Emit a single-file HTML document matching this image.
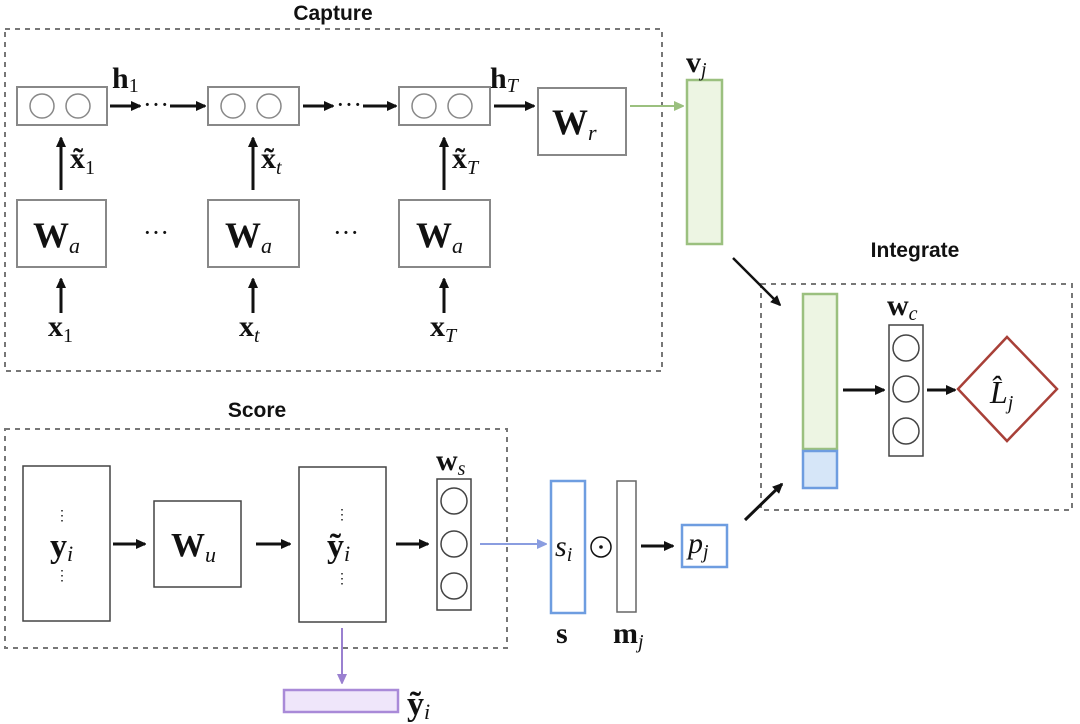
<!DOCTYPE html>
<html><head><meta charset="utf-8"><style>
html,body{margin:0;padding:0;background:#fff;}
svg{display:block;}
.t{font-family:"Liberation Sans",sans-serif;font-weight:bold;font-size:21px;fill:#111;}
.m{font-family:"Liberation Serif",serif;fill:#111;}
.b{font-weight:bold;}
.i{font-style:italic;}
</style></head><body>
<svg width="1080" height="724" viewBox="0 0 1080 724" xmlns="http://www.w3.org/2000/svg">
<defs>
<marker id="ak" markerWidth="10" markerHeight="10" refX="9" refY="5" orient="auto" markerUnits="userSpaceOnUse"><path d="M0,0 L11,5 L0,10 Z" fill="#111"/></marker>
<marker id="ag" markerWidth="10" markerHeight="10" refX="9" refY="5" orient="auto" markerUnits="userSpaceOnUse"><path d="M0,0 L11,5 L0,10 Z" fill="#9bc07f"/></marker>
<marker id="ab" markerWidth="10" markerHeight="10" refX="9" refY="5" orient="auto" markerUnits="userSpaceOnUse"><path d="M0,0 L11,5 L0,10 Z" fill="#8a9de0"/></marker>
<marker id="ap" markerWidth="10" markerHeight="10" refX="9" refY="5" orient="auto" markerUnits="userSpaceOnUse"><path d="M0,0 L11,5 L0,10 Z" fill="#9a80d0"/></marker>
</defs>
<g fill="none" stroke="#777" stroke-width="2" stroke-dasharray="5,5">
<rect x="5" y="29" width="657" height="342"/>
<rect x="5" y="429" width="502" height="219"/>
<rect x="761" y="284" width="311" height="226"/>
</g>
<text class="t" x="333" y="20" text-anchor="middle">Capture</text>
<text class="t" x="257" y="417" text-anchor="middle">Score</text>
<text class="t" x="915" y="257" text-anchor="middle">Integrate</text>

<g fill="#fff" stroke="#888" stroke-width="2">
<rect x="17" y="87" width="90" height="38"/><rect x="208" y="87" width="91" height="38"/><rect x="399" y="87" width="91" height="38"/>
<rect x="17" y="200" width="89" height="67"/><rect x="208" y="200" width="91" height="67"/><rect x="399" y="200" width="91" height="67"/>
<rect x="538" y="88" width="88" height="67"/>
</g>
<g fill="none" stroke="#888" stroke-width="1.5">
<circle cx="42" cy="106" r="12"/><circle cx="78" cy="106" r="12"/>
<circle cx="233" cy="106" r="12"/><circle cx="269" cy="106" r="12"/>
<circle cx="424" cy="106" r="12"/><circle cx="460" cy="106" r="12"/>
</g>
<g stroke="#111" stroke-width="3" marker-end="url(#ak)">
<line x1="110" y1="106" x2="140" y2="106"/><line x1="170" y1="106" x2="205" y2="106"/>
<line x1="303" y1="106" x2="333" y2="106"/><line x1="363" y1="106" x2="396" y2="106"/>
<line x1="494" y1="106" x2="534" y2="106"/>
<line x1="61" y1="190" x2="61" y2="138"/><line x1="253" y1="190" x2="253" y2="138"/><line x1="444" y1="190" x2="444" y2="138"/>
<line x1="61" y1="313" x2="61" y2="279"/><line x1="253" y1="313" x2="253" y2="279"/><line x1="444" y1="313" x2="444" y2="279"/>
</g>
<g class="m" font-size="26">
<text x="143" y="113">···</text><text x="336" y="113">···</text>
<text x="143" y="241">···</text><text x="333" y="241">···</text>
</g>
<g class="m" font-size="30">
<text x="112" y="88" class="b">h<tspan font-size="20" font-weight="normal" dy="4">1</tspan></text>
<text x="490" y="88" class="b">h<tspan font-size="20" font-weight="normal" font-style="italic" dy="4">T</tspan></text>
<text x="70" y="168" class="b">x̃<tspan font-size="20" font-weight="normal" dy="6">1</tspan></text>
<text x="261" y="168" class="b">x̃<tspan font-size="20" font-weight="normal" font-style="italic" dy="6">t</tspan></text>
<text x="452" y="168" class="b">x̃<tspan font-size="20" font-weight="normal" font-style="italic" dy="6">T</tspan></text>
<text x="48" y="336" class="b">x<tspan font-size="20" font-weight="normal" dy="6">1</tspan></text>
<text x="239" y="336" class="b">x<tspan font-size="20" font-weight="normal" font-style="italic" dy="6">t</tspan></text>
<text x="430" y="336" class="b">x<tspan font-size="20" font-weight="normal" font-style="italic" dy="6">T</tspan></text>
</g>
<g class="m" font-size="36">
<text x="33" y="247" class="b">W<tspan font-size="22" font-weight="normal" font-style="italic" dy="6">a</tspan></text>
<text x="225" y="247" class="b">W<tspan font-size="22" font-weight="normal" font-style="italic" dy="6">a</tspan></text>
<text x="416" y="247" class="b">W<tspan font-size="22" font-weight="normal" font-style="italic" dy="6">a</tspan></text>
<text x="552" y="134" class="b">W<tspan font-size="22" font-weight="normal" font-style="italic" dy="6">r</tspan></text>
</g>
<line x1="630" y1="106" x2="683" y2="106" stroke="#9bc07f" stroke-width="2" marker-end="url(#ag)"/>
<rect x="687" y="80" width="35" height="164" fill="#edf5e3" stroke="#9bc07f" stroke-width="2.5"/>
<text class="m b" x="686" y="72" font-size="30">v<tspan font-size="20" font-weight="normal" font-style="italic" dy="4">j</tspan></text>
<line x1="733" y1="258" x2="780" y2="305" stroke="#111" stroke-width="2.5" marker-end="url(#ak)"/>

<rect x="803" y="294" width="34" height="155" fill="#edf5e3" stroke="#9bc07f" stroke-width="2.5"/>
<rect x="803" y="451" width="34" height="37" fill="#d6e6f8" stroke="#6e9de0" stroke-width="2.5"/>
<line x1="843" y1="390" x2="884" y2="390" stroke="#111" stroke-width="3" marker-end="url(#ak)"/>
<rect x="889" y="325" width="34" height="131" fill="#fff" stroke="#444" stroke-width="1.5"/>
<g fill="none" stroke="#444" stroke-width="1.5"><circle cx="906" cy="348" r="13"/><circle cx="906" cy="389" r="13"/><circle cx="906" cy="431" r="13"/></g>
<line x1="927" y1="390" x2="955" y2="390" stroke="#111" stroke-width="3" marker-end="url(#ak)"/>
<polygon points="1007,337 1057,389 1007,441 958,389" fill="#fff" stroke="#a84038" stroke-width="2.5"/>
<text class="m i" x="990" y="403" font-size="32">L̂<tspan font-size="20" dy="6">j</tspan></text>
<text class="m b" x="887" y="315" font-size="30">w<tspan font-size="20" font-weight="normal" font-style="italic" dy="5">c</tspan></text>

<g fill="#fff" stroke="#444" stroke-width="1.5">
<rect x="23" y="466" width="87" height="155"/><rect x="154" y="501" width="87" height="86"/>
<rect x="299" y="467" width="87" height="155"/><rect x="437" y="479" width="34" height="131"/>
<rect x="617" y="481" width="19" height="131" stroke="#666"/>
</g>
<g fill="none" stroke="#444" stroke-width="1.5"><circle cx="454" cy="501" r="13"/><circle cx="454" cy="544" r="13"/><circle cx="454" cy="586" r="13"/></g>
<g stroke="#111" stroke-width="3" marker-end="url(#ak)">
<line x1="113" y1="544" x2="145" y2="544"/><line x1="256" y1="544" x2="290" y2="544"/>
<line x1="396" y1="544" x2="428" y2="544"/><line x1="641" y1="546" x2="673" y2="546"/>
<line x1="745" y1="520" x2="782" y2="484"/>
</g>
<g class="m" font-size="14" fill="#555">
<text x="62" y="520" text-anchor="middle">⋮</text><text x="62" y="580" text-anchor="middle">⋮</text>
<text x="342" y="519" text-anchor="middle">⋮</text><text x="342" y="583" text-anchor="middle">⋮</text>
<text x="567" y="525" text-anchor="middle">⋮</text><text x="567" y="585" text-anchor="middle">⋮</text>
</g>
<g class="m" font-size="34">
<text x="50" y="557" class="b">y<tspan font-size="22" font-weight="normal" font-style="italic" dy="4">i</tspan></text>
<text x="327" y="557" class="b">ỹ<tspan font-size="22" font-weight="normal" font-style="italic" dy="4">i</tspan></text>
<text x="171" y="556" class="b">W<tspan font-size="22" font-weight="normal" font-style="italic" dy="6">u</tspan></text>
<text x="436" y="470" class="b" font-size="30">w<tspan font-size="20" font-weight="normal" font-style="italic" dy="5">s</tspan></text>
<text x="556" y="643" class="b" font-size="30">s</text>
<text x="613" y="643" class="b" font-size="30">m<tspan font-size="20" font-weight="normal" font-style="italic" dy="5">j</tspan></text>
<text x="303" y="715" class="b" dx="104">ỹ<tspan font-size="22" font-weight="normal" font-style="italic" dy="4">i</tspan></text>
</g>
<line x1="480" y1="544" x2="546" y2="544" stroke="#8a9de0" stroke-width="2" marker-end="url(#ab)"/>
<rect x="551" y="481" width="34" height="132" fill="#fff" stroke="#6e9de0" stroke-width="2.5"/>
<text class="m i" x="555" y="556" font-size="30">s<tspan font-size="20" dy="5">i</tspan></text>
<circle cx="601" cy="547" r="10" fill="none" stroke="#111" stroke-width="1.5"/><circle cx="601" cy="547" r="1.8" fill="#111"/>
<rect x="682" y="525" width="45" height="42" fill="#fff" stroke="#6e9de0" stroke-width="2.5"/>
<text class="m i" x="688" y="553" font-size="30">p<tspan font-size="20" dy="5">j</tspan></text>
<line x1="342" y1="628" x2="342" y2="683" stroke="#9a80d0" stroke-width="2" marker-end="url(#ap)"/>
<rect x="284" y="690" width="114" height="22" fill="#efe6fa" stroke="#a98ad8" stroke-width="2.5"/>
</svg>
</body></html>
